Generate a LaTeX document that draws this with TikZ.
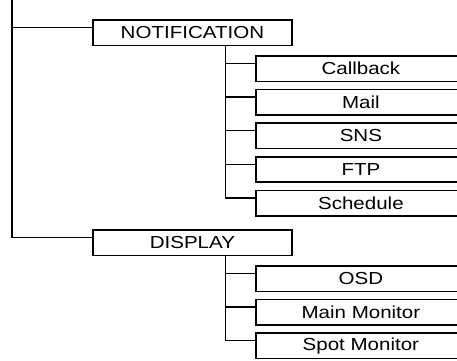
\documentclass[tikz,border=0pt]{standalone}
\usepackage{fontspec}
\setmainfont{Liberation Sans}[FakeStretch=1.18]
\begin{document}
\begin{tikzpicture}[x=1pt,y=-1pt,
  line width=1.8pt,
  box/.style={draw, rectangle, inner sep=0pt, anchor=north west,
    minimum height=25.5pt, font=\fontsize{17.4}{19}\selectfont},
  parentbox/.style={box, minimum width=199pt},
  childbox/.style={box, minimum width=210pt},
  link/.style={draw, line width=1.6pt}]
\useasboundingbox (0,0) rectangle (457,360);
\coordinate (top) at (12,0);
\node[parentbox] (notif) at (92,19) {NOTIFICATION};
\node[childbox] (c1) at (255,55) {Callback};
\node[childbox] (c2) at (255,88.5) {Mail};
\node[childbox] (c3) at (255,122) {SNS};
\node[childbox] (c4) at (255,155.7) {FTP};
\node[childbox] (c5) at (255,189.5) {Schedule};
\node[parentbox] (disp) at (92,229) {DISPLAY};
\node[childbox] (d1) at (255,265) {OSD};
\node[childbox] (d2) at (255,298.5) {Main Monitor};
\node[childbox] (d3) at (255,332) {Spot Monitor};
\coordinate (nv) at ([xshift=33pt]notif.south);
\coordinate (dv) at ([xshift=33pt]disp.south);
\path[link] (top) |- ([yshift=5pt]disp.west);
\path[link] (top) |- ([yshift=5pt]notif.west);
\foreach \c in {c1,c2,c3,c4,c5}
  \path[link] (nv) |- ([yshift=5pt]\c.west);
\foreach \c in {d1,d2,d3}
  \path[link] (dv) |- ([yshift=5pt]\c.west);
\end{tikzpicture}
\end{document}
